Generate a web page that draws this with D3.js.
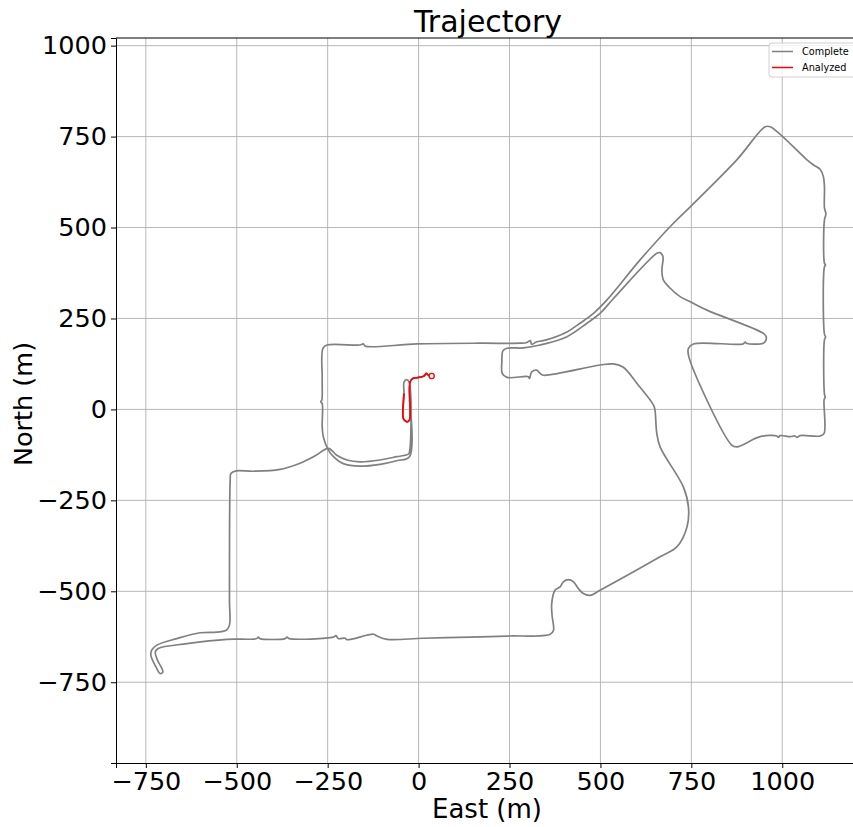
<!DOCTYPE html>
<html>
<head>
<meta charset="utf-8">
<script src="https://cdn.jsdelivr.net/npm/d3@7"></script>
<style>
  html, body { margin: 0; padding: 0; background: #fff; overflow: hidden; }
  text { font-family: "DejaVu Sans", sans-serif; }
</style>
</head>
<body>
<svg id="chart" width="853" height="827"></svg>
<script>
// tick values
const xTicks = [-750, -500, -250, 0, 250, 500, 750, 1000];
const yTicks = [-750, -500, -250, 0, 250, 500, 750, 1000];

// analyzed part of the drive (East, North in m)
const analyzedPath = [
  [36, 92], [27, 94], [21, 99], [15, 92], [-5, 87], [-16, 85], [-23, 76], [-25, 58],
  [-25, -29], [-31, -34], [-37, -31], [-42, -25], [-40, 44]
];

// complete drive (East, North in m)
const completePath = [
  [36, 92], [27, 94], [21, 99], [15, 92], [-5, 87], [-16, 85], [-23, 76], [-25, 58],
  [-25, -29], [-31, -34], [-37, -31], [-42, -25], [-40, 44], [-40, 75], [-33, 82], [-26, 75],
  [-25, -117], [-28, -123], [-60, -130], [-106, -139], [-161, -144], [-197, -139], [-225, -126], [-248, -107],
  [-282, -126], [-326, -148], [-381, -165], [-455, -170], [-502, -169], [-516, -176], [-518, -194],
  [-520, -524], [-520, -593], [-529, -607], [-555, -612], [-601, -614], [-665, -630], [-720, -648],
  [-734, -662], [-736, -676], [-720, -712], [-711, -726], [-703, -722], [-718, -689], [-724, -667],
  [-716, -657], [-637, -644], [-527, -632], [-445, -630], [-441, -626], [-436, -630], [-367, -630],
  [-362, -626], [-356, -630], [-234, -626], [-227, -622], [-221, -630], [-202, -629], [-197, -633],
  [-124, -618], [-114, -623], [-87, -632], [12, -629], [142, -626], [243, -623], [362, -618],
  [371, -607], [367, -566], [366, -534], [375, -497], [389, -488], [398, -474], [412, -468],
  [426, -474], [439, -492], [453, -506], [472, -511], [499, -497], [664, -405], [710, -378],
  [738, -323], [742, -268], [728, -213], [664, -103], [655, -66], [650, -2], [646, 12],
  [600, 72], [563, 116], [536, 125], [499, 122], [343, 94], [334, 99], [325, 108], [311, 103],
  [305, 85], [302, 90], [243, 88], [230, 99], [229, 131], [232, 161], [243, 168], [288, 169],
  [334, 177], [408, 200], [463, 237], [499, 264], [536, 305], [655, 429], [664, 431], [672, 420],
  [669, 383], [673, 356], [692, 333], [719, 310], [747, 296], [793, 273], [948, 209], [956, 199],
  [954, 188], [948, 182], [903, 181], [898, 185], [892, 180], [756, 180], [742, 168], [743, 145],
  [861, -98], [875, -103], [939, -75], [985, -73], [989, -77], [994, -72], [1022, -75], [1035, -73],
  [1041, -77], [1049, -72], [1104, -73], [1115, -66], [1115, 26], [1118, 34], [1116, 42],
  [1116, 191], [1119, 199], [1116, 207], [1116, 392], [1119, 397], [1116, 402], [1116, 521],
  [1120, 537], [1116, 554], [1116, 612], [1113, 640], [1104, 660], [1086, 672], [1068, 686],
  [967, 777], [953, 777], [875, 686], [747, 557], [696, 507], [609, 411], [518, 301], [481, 264],
  [444, 237], [408, 213], [343, 189], [325, 186], [311, 179], [307, 189], [298, 184], [279, 182],
  [169, 182], [-5, 180], [-147, 174], [-152, 180], [-161, 177], [-252, 177], [-263, 168],
  [-265, 81], [-266, 26], [-269, 21], [-265, 16], [-265, -48], [-262, -75], [-248, -112],
  [-234, -130], [-207, -149], [-161, -156], [-106, -151], [-60, -141], [-25, -130], [-25, 26]
];

const svg = d3.select('#chart');

const plotLeft = 116, plotRight = 855, plotTop = 38, plotBottom = 763;

const x = d3.scaleLinear().domain([-832, 1200]).range([plotLeft, plotRight]);
const y = d3.scaleLinear().domain([-972, 1021]).range([plotBottom, plotTop]);

const fmt = d => d3.format('d')(d).replace('-', '\u2212');

// grid
svg.append('g')
  .selectAll('line')
  .data(xTicks)
  .join('line')
  .attr('x1', d => x(d)).attr('x2', d => x(d))
  .attr('y1', plotTop).attr('y2', plotBottom)
  .attr('stroke', '#b0b0b0').attr('stroke-width', 0.9);

svg.append('g')
  .selectAll('line')
  .data(yTicks)
  .join('line')
  .attr('x1', plotLeft).attr('x2', plotRight)
  .attr('y1', d => y(d)).attr('y2', d => y(d))
  .attr('stroke', '#b0b0b0').attr('stroke-width', 0.9);

// trajectory lines
const line = d3.line()
  .x(d => x(d[0])).y(d => y(d[1]))
  .curve(d3.curveCatmullRom.alpha(0.5));

svg.append('path')
  .datum(completePath)
  .attr('d', line)
  .attr('fill', 'none')
  .attr('stroke', '#808080')
  .attr('stroke-width', 1.7)
  .attr('stroke-linejoin', 'round');

svg.append('path')
  .datum(analyzedPath)
  .attr('d', line)
  .attr('fill', 'none')
  .attr('stroke', '#ff0000')
  .attr('stroke-width', 1.8)
  .attr('stroke-linejoin', 'round');

svg.append('circle')
  .attr('cx', x(analyzedPath[0][0]))
  .attr('cy', y(analyzedPath[0][1]))
  .attr('r', 2.6)
  .attr('fill', '#fff')
  .attr('stroke', '#ff0000')
  .attr('stroke-width', 1.3);

// axes
const xAxis = svg.append('g')
  .attr('transform', `translate(0,${plotBottom})`)
  .call(d3.axisBottom(x).tickValues(xTicks).tickFormat(fmt).tickSize(5).tickPadding(4));

const yAxis = svg.append('g')
  .attr('transform', `translate(${plotLeft},0)`)
  .call(d3.axisLeft(y).tickValues(yTicks).tickFormat(fmt).tickSize(5).tickPadding(4));

[xAxis, yAxis].forEach(g => {
  g.select('.domain').attr('stroke', '#000').attr('stroke-width', 1);
  g.selectAll('.tick line').attr('stroke', '#000');
  g.selectAll('.tick text')
    .attr('fill', '#000')
    .style('font-size', '25.5px')
    .style('font-family', '"DejaVu Sans", sans-serif');
});

// top spine
svg.append('line')
  .attr('x1', plotLeft).attr('x2', plotRight)
  .attr('y1', plotTop).attr('y2', plotTop)
  .attr('stroke', '#000').attr('stroke-width', 1);

// titles
svg.append('text')
  .attr('x', 488).attr('y', 32)
  .attr('text-anchor', 'middle')
  .style('font-size', '30px')
  .text('Trajectory');

svg.append('text')
  .attr('x', 487).attr('y', 818)
  .attr('text-anchor', 'middle')
  .style('font-size', '26px')
  .text('East (m)');

svg.append('text')
  .attr('transform', 'translate(32,404) rotate(-90)')
  .attr('text-anchor', 'middle')
  .style('font-size', '25.5px')
  .text('North (m)');

// legend
const legend = svg.append('g').attr('transform', 'translate(769,43)');
legend.append('rect')
  .attr('width', 100).attr('height', 34)
  .attr('rx', 3)
  .attr('fill', '#fff').attr('fill-opacity', 0.8)
  .attr('stroke', '#d0d0d0');

const legendItems = [
  { label: 'Complete', color: '#808080' },
  { label: 'Analyzed', color: '#ff0000' }
];

legendItems.forEach((item, i) => {
  const row = legend.append('g').attr('transform', `translate(0,${8.5 + i * 16})`);
  row.append('line')
    .attr('x1', 3).attr('x2', 24)
    .attr('stroke', item.color).attr('stroke-width', 1.5);
  row.append('text')
    .attr('x', 33).attr('y', 3.5)
    .style('font-size', '9.7px')
    .text(item.label);
});
</script>
</body>
</html>
